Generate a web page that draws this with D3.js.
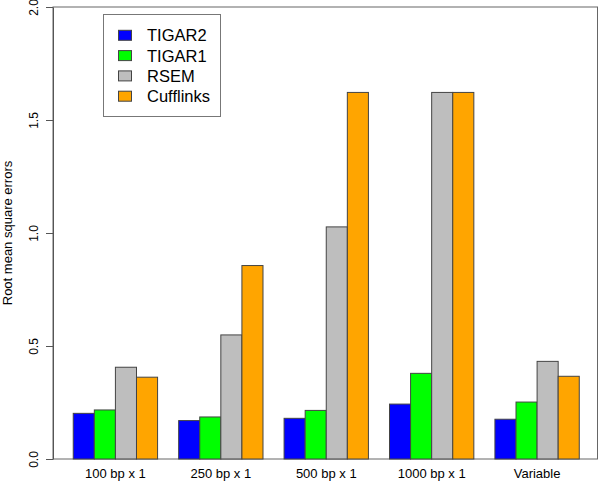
<!DOCTYPE html>
<html>
<head>
<meta charset="utf-8">
<script src="https://cdn.jsdelivr.net/npm/d3@7"></script>
<style>
  body { margin: 0; background: #fff; }
  svg { display: block; font-family: "Liberation Sans", Arial, Helvetica, sans-serif; }
</style>
</head>
<body>
<svg id="chart" width="600" height="487"></svg>
<script>
const categories = ["100 bp x 1", "250 bp x 1", "500 bp x 1", "1000 bp x 1", "Variable"];
const seriesNames = ["TIGAR2", "TIGAR1", "RSEM", "Cufflinks"];
const seriesColors = ["#0000FF", "#00FF00", "#BEBEBE", "#FFA500"];
const TIGAR2 = [0.202, 0.170, 0.180, 0.243, 0.176];
const TIGAR1 = [0.217, 0.186, 0.215, 0.379, 0.252];
const RSEM = [0.406, 0.549, 1.027, 1.622, 0.432];
const Cufflinks = [0.362, 0.856, 1.622, 1.622, 0.366];
const yTicks = [0, 0.5, 1.0, 1.5, 2.0];
const yTitle = "Root mean square errors";

const seriesValues = [TIGAR2, TIGAR1, RSEM, Cufflinks];

(function () {
const svg = d3.select("#chart");
const mLeft = 53, mRight = 597.5, mTop = 7, mBottom = 459;
const nS = seriesNames.length;
const groupUnits = nS + 1; // bars + one space
const totalUnits = categories.length * groupUnits;
const ext = 0.04 * (totalUnits - 1);

const x = d3.scaleLinear().domain([1 - ext, totalUnits + ext]).range([mLeft, 599.5]);
const y = d3.scaleLinear().domain([0, 2]).range([mBottom, mTop]);

// frame
svg.append("rect")
  .attr("x", mLeft).attr("y", mTop)
  .attr("width", mRight - mLeft).attr("height", mBottom - mTop)
  .attr("fill", "none").attr("stroke", "#666").attr("stroke-width", 1);

// bars
const data = [];
categories.forEach((c, g) => {
  seriesValues.forEach((vals, s) => {
    data.push({ g, s, v: vals[g] });
  });
});
svg.append("g").selectAll("rect").data(data).join("rect")
  .attr("x", d => x(1 + d.g * groupUnits + d.s))
  .attr("y", d => y(d.v))
  .attr("width", d => x(2 + d.g * groupUnits + d.s) - x(1 + d.g * groupUnits + d.s))
  .attr("height", d => y(0) - y(d.v))
  .attr("fill", d => seriesColors[d.s])
  .attr("stroke", "#444").attr("stroke-width", 1);

// y axis
const yAxis = svg.append("g").attr("transform", `translate(${mLeft},0)`)
  .call(d3.axisLeft(y).tickValues(yTicks).tickFormat(d3.format(".1f")).tickSize(7).tickSizeOuter(0));
yAxis.select(".domain").attr("stroke", "#555");
yAxis.selectAll(".tick line").attr("stroke", "#555");
yAxis.selectAll(".tick text")
  .attr("font-size", 12).attr("fill", "#000")
  .attr("x", null).attr("dy", null)
  .attr("text-anchor", "middle")
  .attr("transform", "translate(-15,0) rotate(-90)")
  .attr("y", 0);

// x labels
svg.append("g").selectAll("text").data(categories).join("text")
  .attr("x", (d, g) => x(1 + g * groupUnits + nS / 2))
  .attr("y", 478)
  .attr("text-anchor", "middle")
  .attr("font-size", 13)
  .attr("fill", "#000")
  .text(d => d);

// y title
svg.append("text")
  .attr("transform", `translate(12,${(mTop + mBottom) / 2}) rotate(-90)`)
  .attr("text-anchor", "middle")
  .attr("font-size", 13)
  .attr("fill", "#000")
  .text(yTitle);

// legend
const lg = svg.append("g");
lg.append("rect")
  .attr("x", 103.5).attr("y", 14.5).attr("width", 117).attr("height", 102)
  .attr("fill", "#fff").attr("stroke", "#777").attr("stroke-width", 1);
const rows = lg.selectAll("g.row").data(seriesNames).join("g")
  .attr("class", "row")
  .attr("transform", (d, i) => `translate(0,${35.3 + i * 20.3})`);
rows.append("rect")
  .attr("x", 118.5).attr("y", -5).attr("width", 13).attr("height", 10)
  .attr("fill", (d, i) => seriesColors[i]).attr("stroke", "#444");
rows.append("text")
  .attr("x", 147).attr("y", 6)
  .attr("font-size", 16.5).attr("fill", "#000")
  .text(d => d);
})();
</script>
</body>
</html>
